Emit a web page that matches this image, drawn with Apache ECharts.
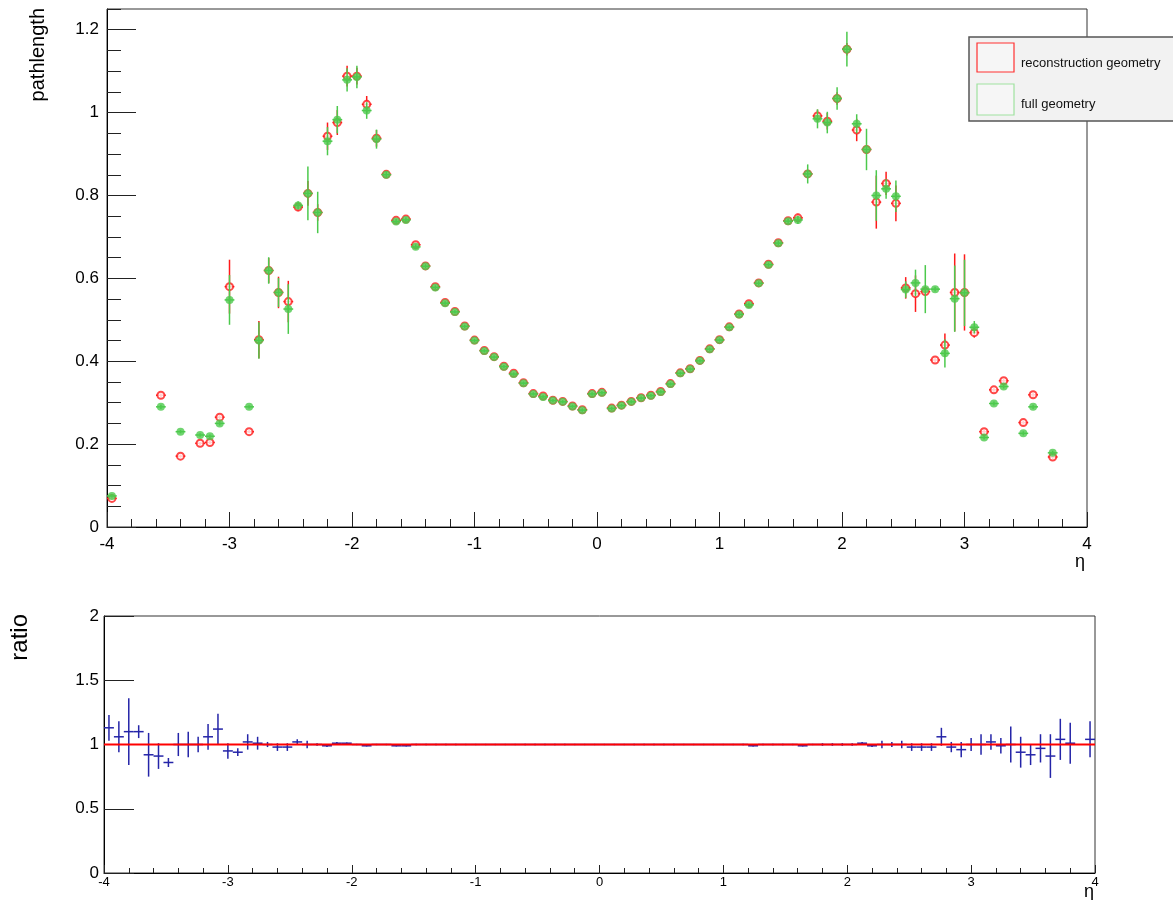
<!DOCTYPE html>
<html>
<head>
<meta charset="utf-8">
<title>pathlength vs eta</title>
<script src="https://cdn.jsdelivr.net/npm/echarts@6/dist/echarts.min.js"></script>
<style>
  html, body { margin: 0; padding: 0; background: #fff; }
  #chart { width: 1173px; height: 900px; }
</style>
</head>
<body>
<div id="chart"></div>
<script>
// bin centres (eta) of the filled bins in the upper pad
const etaTop = [
  -3.96, -3.56, -3.40, -3.24, -3.16, -3.08, -3.00, -2.84, -2.76, -2.68,
  -2.60, -2.52, -2.44, -2.36, -2.28, -2.20, -2.12, -2.04, -1.96, -1.88,
  -1.80, -1.72, -1.64, -1.56, -1.48, -1.40, -1.32, -1.24, -1.16, -1.08,
  -1.00, -0.92, -0.84, -0.76, -0.68, -0.60, -0.52, -0.44, -0.36, -0.28,
  -0.20, -0.12, -0.04, 0.04, 0.12, 0.20, 0.28, 0.36, 0.44, 0.52,
  0.60, 0.68, 0.76, 0.84, 0.92, 1.00, 1.08, 1.16, 1.24, 1.32,
  1.40, 1.48, 1.56, 1.64, 1.72, 1.80, 1.88, 1.96, 2.04, 2.12,
  2.20, 2.28, 2.36, 2.44, 2.52, 2.60, 2.68, 2.76, 2.84, 2.92,
  3.00, 3.08, 3.16, 3.24, 3.32, 3.48, 3.56, 3.72
];

// reconstruction geometry
const recoVal = [
  0.069, 0.318, 0.171, 0.202, 0.204, 0.265, 0.580, 0.230, 0.452, 0.619,
  0.566, 0.544, 0.772, 0.805, 0.759, 0.943, 0.976, 1.088, 1.088, 1.020,
  0.938, 0.851, 0.740, 0.743, 0.681, 0.630, 0.580, 0.542, 0.520, 0.485,
  0.451, 0.426, 0.411, 0.388, 0.371, 0.348, 0.322, 0.316, 0.306, 0.303,
  0.292, 0.283, 0.322, 0.325, 0.287, 0.294, 0.303, 0.312, 0.318, 0.327,
  0.346, 0.372, 0.382, 0.402, 0.430, 0.452, 0.483, 0.514, 0.539, 0.589,
  0.634, 0.686, 0.739, 0.746, 0.852, 0.992, 0.979, 1.034, 1.153, 0.958,
  0.911, 0.784, 0.829, 0.781, 0.577, 0.563, 0.568, 0.403, 0.439, 0.566,
  0.566, 0.469, 0.230, 0.331, 0.353, 0.252, 0.319, 0.169
];
const recoErr = [
  0.004, 0.005, 0.004, 0.004, 0.004, 0.005, 0.065, 0.004, 0.045, 0.030,
  0.038, 0.050, 0.010, 0.030, 0.020, 0.033, 0.030, 0.025, 0.020, 0.020,
  0.020, 0.008, 0.006, 0.006, 0.006, 0.005, 0.005, 0.005, 0.004, 0.004,
  0.004, 0.004, 0.004, 0.004, 0.004, 0.004, 0.004, 0.004, 0.004, 0.004,
  0.004, 0.004, 0.004, 0.004, 0.004, 0.004, 0.004, 0.004, 0.004, 0.004,
  0.004, 0.004, 0.004, 0.004, 0.004, 0.004, 0.004, 0.005, 0.005, 0.005,
  0.005, 0.006, 0.006, 0.010, 0.010, 0.015, 0.020, 0.015, 0.015, 0.027,
  0.010, 0.064, 0.028, 0.043, 0.026, 0.044, 0.010, 0.006, 0.028, 0.094,
  0.092, 0.012, 0.005, 0.005, 0.005, 0.005, 0.005, 0.005
];

// full geometry
const fullVal = [
  0.075, 0.290, 0.230, 0.222, 0.219, 0.250, 0.548, 0.290, 0.450, 0.619,
  0.566, 0.526, 0.776, 0.805, 0.759, 0.931, 0.983, 1.079, 1.086, 1.005,
  0.936, 0.850, 0.737, 0.741, 0.676, 0.629, 0.578, 0.540, 0.519, 0.484,
  0.450, 0.425, 0.410, 0.387, 0.369, 0.347, 0.321, 0.314, 0.305, 0.302,
  0.291, 0.282, 0.321, 0.324, 0.286, 0.293, 0.302, 0.311, 0.317, 0.326,
  0.345, 0.371, 0.381, 0.401, 0.429, 0.451, 0.482, 0.513, 0.536, 0.588,
  0.633, 0.685, 0.738, 0.741, 0.852, 0.985, 0.976, 1.034, 1.153, 0.973,
  0.911, 0.800, 0.816, 0.798, 0.573, 0.589, 0.574, 0.574, 0.419, 0.551,
  0.565, 0.482, 0.216, 0.298, 0.339, 0.226, 0.290, 0.179
];
const fullErr = [
  0.004, 0.005, 0.004, 0.004, 0.004, 0.005, 0.060, 0.004, 0.044, 0.032,
  0.035, 0.060, 0.010, 0.065, 0.050, 0.034, 0.033, 0.028, 0.027, 0.020,
  0.023, 0.008, 0.006, 0.006, 0.006, 0.005, 0.005, 0.005, 0.004, 0.004,
  0.004, 0.004, 0.004, 0.004, 0.004, 0.004, 0.004, 0.004, 0.004, 0.004,
  0.004, 0.004, 0.004, 0.004, 0.004, 0.004, 0.004, 0.004, 0.004, 0.004,
  0.004, 0.004, 0.004, 0.004, 0.004, 0.004, 0.004, 0.005, 0.005, 0.005,
  0.005, 0.006, 0.006, 0.010, 0.023, 0.023, 0.026, 0.027, 0.042, 0.023,
  0.050, 0.061, 0.024, 0.038, 0.020, 0.032, 0.058, 0.006, 0.034, 0.080,
  0.080, 0.015, 0.005, 0.005, 0.005, 0.005, 0.005, 0.005
];

// ratio pad: all 100 bins from -3.96 to 3.96
const etaRatio = [
  -3.96, -3.88, -3.80, -3.72, -3.64, -3.56, -3.48, -3.40, -3.32, -3.24,
  -3.16, -3.08, -3.00, -2.92, -2.84, -2.76, -2.68, -2.60, -2.52, -2.44,
  -2.36, -2.28, -2.20, -2.12, -2.04, -1.96, -1.88, -1.80, -1.72, -1.64,
  -1.56, -1.48, -1.40, -1.32, -1.24, -1.16, -1.08, -1.00, -0.92, -0.84,
  -0.76, -0.68, -0.60, -0.52, -0.44, -0.36, -0.28, -0.20, -0.12, -0.04,
  0.04, 0.12, 0.20, 0.28, 0.36, 0.44, 0.52, 0.60, 0.68, 0.76,
  0.84, 0.92, 1.00, 1.08, 1.16, 1.24, 1.32, 1.40, 1.48, 1.56,
  1.64, 1.72, 1.80, 1.88, 1.96, 2.04, 2.12, 2.20, 2.28, 2.36,
  2.44, 2.52, 2.60, 2.68, 2.76, 2.84, 2.92, 3.00, 3.08, 3.16,
  3.24, 3.32, 3.40, 3.48, 3.56, 3.64, 3.72, 3.80, 3.88, 3.96
];
const ratioVal = [
  1.13, 1.06, 1.10, 1.10, 0.92, 0.91, 0.86, 1.00, 1.00, 1.00,
  1.06, 1.12, 0.95, 0.94, 1.02, 1.01, 1.00, 0.98, 0.98, 1.02,
  1.00, 1.00, 0.99, 1.01, 1.01, 1.00, 0.99, 1.00, 1.00, 0.99,
  0.99, 1.00, 1.00, 1.00, 1.00, 1.00, 1.00, 1.00, 1.00, 1.00,
  1.00, 1.00, 1.00, 1.00, 1.00, 1.00, 1.00, 1.00, 1.00, 1.00,
  1.00, 1.00, 1.00, 1.00, 1.00, 1.00, 1.00, 1.00, 1.00, 1.00,
  1.00, 1.00, 1.00, 1.00, 1.00, 0.99, 1.00, 1.00, 1.00, 1.00,
  0.99, 1.00, 1.00, 1.00, 1.00, 1.00, 1.01, 0.99, 1.00, 1.00,
  1.00, 0.98, 0.98, 0.98, 1.06, 0.98, 0.96, 1.00, 1.00, 1.02,
  0.99, 1.00, 0.94, 0.92, 0.97, 0.91, 1.04, 1.01, null, 1.04
];
const ratioErr = [
  0.10, 0.12, 0.26, 0.05, 0.17, 0.10, 0.035, 0.09, 0.10, 0.06,
  0.10, 0.12, 0.06, 0.03, 0.06, 0.05, 0.02, 0.03, 0.03, 0.02,
  0.03, 0.01, 0.01, 0.01, 0.005, 0.005, 0.005, 0.005, 0.005, 0.005,
  0.005, 0.005, 0.005, 0.005, 0.005, 0.005, 0.005, 0.005, 0.005, 0.005,
  0.005, 0.005, 0.005, 0.005, 0.005, 0.005, 0.005, 0.005, 0.005, 0.005,
  0.005, 0.005, 0.005, 0.005, 0.005, 0.005, 0.005, 0.005, 0.005, 0.005,
  0.005, 0.005, 0.005, 0.005, 0.005, 0.005, 0.005, 0.005, 0.005, 0.005,
  0.005, 0.005, 0.01, 0.01, 0.01, 0.01, 0.01, 0.01, 0.03, 0.02,
  0.03, 0.03, 0.03, 0.03, 0.07, 0.04, 0.06, 0.05, 0.08, 0.06,
  0.06, 0.14, 0.12, 0.08, 0.11, 0.17, 0.16, 0.16, null, 0.14
];

const HALF_BIN = 0.04;
const FONT = "'Liberation Sans', Arial, sans-serif";
const RED = "#ff1a1a";
const GREEN = "#4cc94c";
const BLUE = "#2424a8";

function zip3(a, b, c) {
  const out = [];
  for (let i = 0; i < a.length; i++) {
    if (b[i] == null) continue;
    out.push([a[i], b[i], c[i]]);
  }
  return out;
}

// ROOT-style bar: vertical error + horizontal half-bin bar
function errorCross(color, width) {
  return function (params, api) {
    const x = api.value(0);
    const y = api.value(1);
    const e = api.value(2);
    const c = api.coord([x, y]);
    const hi = api.coord([x, y + e]);
    const lo = api.coord([x, y - e]);
    const l = api.coord([x - HALF_BIN, y]);
    const r = api.coord([x + HALF_BIN, y]);
    const style = { stroke: color, lineWidth: width };
    return {
      type: "group",
      children: [
        { type: "line", shape: { x1: c[0], y1: hi[1], x2: c[0], y2: lo[1] }, style: style },
        { type: "line", shape: { x1: l[0], y1: c[1], x2: r[0], y2: c[1] }, style: style },
      ],
    };
  };
}

const recoData = zip3(etaTop, recoVal, recoErr);
const fullData = zip3(etaTop, fullVal, fullErr);
const ratioData = zip3(etaRatio, ratioVal, ratioErr);

const labelStyle = { color: "#000", fontFamily: FONT };
const tickStyle = { color: "#222", width: 1 };
const axisLine = { show: true, onZero: false, lineStyle: { color: "#000" } };

const chart = echarts.init(document.getElementById("chart"));

chart.setOption({
  animation: false,
  backgroundColor: "#fff",
  grid: [
    { left: 107, right: 86, top: 9, bottom: 373, show: true, borderColor: "#333", borderWidth: 1 },
    { left: 104, right: 78, top: 616, bottom: 27, show: true, borderColor: "#333", borderWidth: 1 },
  ],
  xAxis: [
    {
      gridIndex: 0, type: "value", min: -4, max: 4, interval: 1, position: "bottom",
      axisLine: axisLine,
      axisTick: { inside: true, length: 15, lineStyle: tickStyle },
      minorTick: { show: true, splitNumber: 5, length: 8, lineStyle: tickStyle },
      axisLabel: Object.assign({ fontSize: 17, margin: 9 }, labelStyle),
      splitLine: { show: false },
    },
    {
      gridIndex: 1, type: "value", min: -4, max: 4, interval: 1, position: "bottom",
      axisLine: axisLine,
      axisTick: { inside: true, length: 8, lineStyle: tickStyle },
      minorTick: { show: true, splitNumber: 5, length: 5, lineStyle: tickStyle },
      axisLabel: Object.assign({ fontSize: 13, margin: 3 }, labelStyle),
      splitLine: { show: false },
    },
  ],
  yAxis: [
    {
      gridIndex: 0, type: "value", min: 0, max: 1.25, interval: 0.2, position: "left",
      axisLine: axisLine,
      axisTick: { show: true, inside: true, length: 29, lineStyle: tickStyle },
      axisLabel: Object.assign({ fontSize: 17, margin: 8, showMaxLabel: false }, labelStyle),
      splitLine: { show: false },
    },
    {
      // minor ticks of the upper pad
      gridIndex: 0, type: "value", min: 0, max: 1.25, interval: 0.05, position: "left",
      axisLine: { show: false, onZero: false },
      axisTick: { show: true, inside: true, length: 14, lineStyle: tickStyle },
      axisLabel: { show: false },
      splitLine: { show: false },
    },
    {
      gridIndex: 1, type: "value", min: 0, max: 2, interval: 0.5, position: "left",
      axisLine: axisLine,
      axisTick: { show: true, inside: true, length: 30, lineStyle: tickStyle },
      axisLabel: Object.assign({ fontSize: 17, margin: 5 }, labelStyle),
      splitLine: { show: false },
    },
  ],
  series: [
    {
      name: "reco errors", type: "custom", xAxisIndex: 0, yAxisIndex: 0, z: 2,
      renderItem: errorCross(RED, 1.5), data: recoData, silent: true,
    },
    {
      name: "reconstruction geometry", type: "scatter", xAxisIndex: 0, yAxisIndex: 0, z: 3,
      symbol: "emptyCircle", symbolSize: 7,
      itemStyle: { color: RED, borderColor: RED, borderWidth: 1.3 },
      data: recoData.map((d) => [d[0], d[1]]),
    },
    {
      name: "full errors", type: "custom", xAxisIndex: 0, yAxisIndex: 0, z: 4,
      renderItem: errorCross(GREEN, 1.5), data: fullData, silent: true,
    },
    {
      name: "full geometry", type: "scatter", xAxisIndex: 0, yAxisIndex: 0, z: 5,
      symbol: "circle", symbolSize: 8,
      itemStyle: { color: GREEN },
      data: fullData.map((d) => [d[0], d[1]]),
    },
    {
      name: "ratio", type: "custom", xAxisIndex: 1, yAxisIndex: 2, z: 2,
      renderItem: errorCross(BLUE, 1.5), data: ratioData, silent: true,
    },
    {
      name: "unity", type: "line", xAxisIndex: 1, yAxisIndex: 2, z: 4,
      symbol: "none", silent: true,
      lineStyle: { color: "#ff0000", width: 2 },
      data: [[-4, 1], [4, 1]],
    },
  ],
  graphic: [
    { type: "text", x: 38, y: 8, rotation: Math.PI / 2,
      style: { text: "pathlength", font: "20px " + FONT, fill: "#000", textAlign: "right", textVerticalAlign: "middle" } },
    { type: "text", x: 1080, y: 562,
      style: { text: "η", font: "18px " + FONT, fill: "#000", textAlign: "center", textVerticalAlign: "middle" } },
    { type: "text", x: 20, y: 614, rotation: Math.PI / 2,
      style: { text: "ratio", font: "24px " + FONT, fill: "#000", textAlign: "right", textVerticalAlign: "middle" } },
    { type: "text", x: 1089, y: 892,
      style: { text: "η", font: "18px " + FONT, fill: "#000", textAlign: "center", textVerticalAlign: "middle" } },
    // legend box
    { type: "rect", shape: { x: 969, y: 37, width: 210, height: 84 }, z: 10,
      style: { fill: "#f2f2f2", stroke: "#555", lineWidth: 1.5 } },
    { type: "rect", shape: { x: 977, y: 43, width: 37, height: 29 }, z: 11,
      style: { fill: "#f6f6f6", stroke: "#ff3030", lineWidth: 1.2 } },
    { type: "rect", shape: { x: 977, y: 84, width: 37, height: 31 }, z: 11,
      style: { fill: "#f6f6f6", stroke: "#9fe29f", lineWidth: 1.2 } },
    { type: "text", x: 1021, y: 63, z: 11,
      style: { text: "reconstruction geometry", font: "13px " + FONT, fill: "#111", textVerticalAlign: "middle" } },
    { type: "text", x: 1021, y: 104, z: 11,
      style: { text: "full geometry", font: "13px " + FONT, fill: "#111", textVerticalAlign: "middle" } },
  ],
});
</script>
</body>
</html>
